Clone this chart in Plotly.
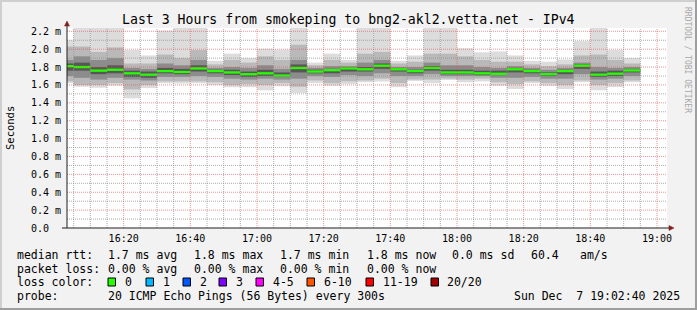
import plotly.graph_objects as go
import pandas as pd

# ---------------- data ----------------
bar_end = pd.date_range("2025-12-07 16:05", periods=35, freq="5min")  # end of each 5-min step
median = [1.81, 1.80, 1.76, 1.77, 1.73, 1.715, 1.755, 1.745, 1.785, 1.755,
          1.74, 1.72, 1.73, 1.705, 1.79, 1.75, 1.765, 1.785, 1.775, 1.815,
          1.775, 1.755, 1.79, 1.74, 1.74, 1.73, 1.725, 1.775, 1.755, 1.72,
          1.755, 1.815, 1.715, 1.726, 1.763]
ping_max = [2.10, 2.30, 2.30, 2.30, 1.99, 1.93, 2.21, 2.30, 2.30, 1.87,
            1.95, 1.90, 2.005, 1.995, 2.30, 1.85, 1.95, 1.88, 2.30, 2.30,
            1.87, 1.93, 2.30, 2.30, 2.01, 1.965, 1.975, 1.93, 1.87, 1.86,
            1.885, 2.09, 2.30, 1.99, 1.90]
ping_min = [1.62, 1.58, 1.57, 1.59, 1.45, 1.565, 1.62, 1.615, 1.62, 1.60,
            1.575, 1.575, 1.54, 1.585, 1.51, 1.62, 1.59, 1.61, 1.63, 1.64,
            1.575, 1.645, 1.62, 1.655, 1.63, 1.64, 1.59, 1.555, 1.62, 1.59,
            1.555, 1.63, 1.54, 1.576, 1.63]
p90 = [2.03, 2.03, 1.97, 2.02, 1.84, 1.84, 1.94, 1.90, 1.99, 1.83,
       1.88, 1.85, 1.92, 1.88, 2.05, 1.82, 1.88, 1.85, 1.95, 1.97,
       1.84, 1.86, 1.95, 1.95, 1.92, 1.88, 1.86, 1.86, 1.83, 1.81,
       1.83, 1.93, 1.94, 1.88, 1.84]
p10 = [1.64, 1.60, 1.60, 1.62, 1.55, 1.60, 1.64, 1.64, 1.64, 1.63,
       1.60, 1.61, 1.60, 1.62, 1.58, 1.65, 1.62, 1.64, 1.65, 1.67,
       1.62, 1.66, 1.66, 1.67, 1.66, 1.67, 1.63, 1.61, 1.64, 1.62,
       1.60, 1.65, 1.60, 1.62, 1.65]
p75 = [1.88, 1.92, 1.88, 1.90, 1.79, 1.78, 1.84, 1.82, 1.88, 1.79,
       1.80, 1.79, 1.82, 1.78, 1.88, 1.79, 1.81, 1.81, 1.85, 1.88,
       1.80, 1.80, 1.85, 1.82, 1.82, 1.80, 1.79, 1.81, 1.79, 1.77,
       1.79, 1.85, 1.80, 1.79, 1.80]
p25 = [1.70, 1.68, 1.66, 1.68, 1.66, 1.65, 1.69, 1.69, 1.70, 1.69,
       1.67, 1.66, 1.67, 1.66, 1.67, 1.70, 1.69, 1.71, 1.70, 1.73,
       1.70, 1.70, 1.72, 1.70, 1.70, 1.70, 1.68, 1.68, 1.69, 1.67,
       1.67, 1.72, 1.66, 1.67, 1.70]
p60 = [1.84, 1.85, 1.80, 1.82, 1.76, 1.75, 1.79, 1.78, 1.82, 1.77,
       1.77, 1.75, 1.77, 1.74, 1.83, 1.77, 1.78, 1.80, 1.80, 1.84,
       1.79, 1.77, 1.81, 1.77, 1.77, 1.76, 1.76, 1.79, 1.77, 1.74,
       1.77, 1.83, 1.75, 1.76, 1.78]
p40 = [1.76, 1.76, 1.72, 1.73, 1.69, 1.68, 1.73, 1.72, 1.75, 1.73,
       1.71, 1.69, 1.70, 1.69, 1.74, 1.73, 1.73, 1.75, 1.75, 1.78,
       1.75, 1.73, 1.76, 1.72, 1.72, 1.71, 1.71, 1.74, 1.73, 1.70,
       1.72, 1.78, 1.69, 1.70, 1.74]

y_ticks = [0.0, 0.2, 0.4, 0.6, 0.8, 1.0, 1.2, 1.4, 1.6, 1.8, 2.0, 2.2]
y_labels = ["0.0\u00a0\u00a0", "0.2 m", "0.4 m", "0.6 m", "0.8 m", "1.0 m", "1.2 m",
            "1.4 m", "1.6 m", "1.8 m", "2.0 m", "2.2 m"]
x_labels = ["16:20", "16:40", "17:00", "17:20", "17:40", "18:00", "18:20", "18:40", "19:00"]

loss_labels = ["0", "1", "2", "3", "4-5", "6-10", "11-19", "20/20"]
loss_colors = ["#26ff00", "#00b8ff", "#0059ff", "#7e00ff", "#ff00ff", "#ff5500", "#ff0000", "#a10000"]

# ---------------- geometry ----------------
IMG_W, IMG_H = 697, 310
L, T, PW, PH = 67, 28, 600, 200
Y_MAX = 2.237
X0 = pd.Timestamp("2025-12-07 16:03:00")
X1 = pd.Timestamp("2025-12-07 19:03:00")
FONT = "DejaVu Sans Mono"


def px(x):
    return (x - L) / PW


def py(y):
    return (T + PH - y) / PH


centers = bar_end - pd.Timedelta(minutes=2.5)
step_ms = 300000

fig = go.Figure()

layers = [(ping_min, ping_max, "#dcdcdc"), (p10, p90, "#b9b9b9"),
          (p25, p75, "#8c8c8c"), (p40, p60, "#575757")]
for lo, hi, col in layers:
    fig.add_trace(go.Bar(x=centers, base=lo, y=[h - l for l, h in zip(lo, hi)],
                         width=step_ms, marker=dict(color=col, line=dict(width=0)),
                         hoverinfo="skip", showlegend=False))

# grid (drawn above smoke as in rrdtool)
x_ticks = [pd.Timestamp("2025-12-07 " + s) for s in x_labels]
minor_t = [t for t in pd.date_range("2025-12-07 16:05", "2025-12-07 19:00", freq="5min")
           if t not in x_ticks]
minor_y = [round(0.1 + 0.2 * i, 1) for i in range(11)]


def vlines(ts):
    xs, ys = [], []
    for t in ts:
        xs += [t, t, None]
        ys += [0, Y_MAX, None]
    return xs, ys


def hlines(vs):
    xs, ys = [], []
    for v in vs:
        xs += [X0, X1, None]
        ys += [v, v, None]
    return xs, ys


for ts, vs, col in [(minor_t, minor_y, "rgba(143,143,143,0.75)"),
                    (x_ticks, y_ticks[1:], "rgba(222,79,79,0.6)")]:
    ax, ay = vlines(ts)
    bx, by = hlines(vs)
    fig.add_trace(go.Scatter(x=ax + bx, y=ay + by, mode="lines",
                             line=dict(color=col, width=1, dash="1px,1px"),
                             hoverinfo="skip", showlegend=False))

# median as thick step segments
MH = 0.026
fig.add_trace(go.Bar(x=centers, base=[m - MH / 2 for m in median], y=[MH] * len(median),
                     width=step_ms, marker=dict(color=loss_colors[0], line=dict(width=0)),
                     hoverinfo="skip", showlegend=False))

shapes = []
# image border (3D shading)
shapes += [
    dict(type="rect", xref="paper", yref="paper", x0=px(0), x1=px(IMG_W), y0=py(0), y1=py(2),
         fillcolor="#cfcfcf", line=dict(width=0), layer="above"),
    dict(type="rect", xref="paper", yref="paper", x0=px(0), x1=px(2), y0=py(0), y1=py(IMG_H),
         fillcolor="#cfcfcf", line=dict(width=0), layer="above"),
    dict(type="rect", xref="paper", yref="paper", x0=px(0), x1=px(IMG_W), y0=py(IMG_H - 2), y1=py(IMG_H),
         fillcolor="#9e9e9e", line=dict(width=0), layer="above"),
    dict(type="rect", xref="paper", yref="paper", x0=px(IMG_W - 2), x1=px(IMG_W), y0=py(0), y1=py(IMG_H),
         fillcolor="#9e9e9e", line=dict(width=0), layer="above"),
]
# axes
shapes += [
    dict(type="line", xref="paper", yref="paper", x0=px(62), x1=px(670), y0=0, y1=0,
         line=dict(color="#1f1f1f", width=1), layer="above"),
    dict(type="line", xref="paper", yref="paper", x0=0, x1=0, y0=0, y1=py(25),
         line=dict(color="#1f1f1f", width=1), layer="above"),
    dict(type="path", xref="paper", yref="paper",
         path=f"M {px(64.5)},{py(26)} L {px(69.5)},{py(26)} L {px(67)},{py(21)} Z",
         fillcolor="#801f1f", line=dict(color="#801f1f", width=0.5), layer="above"),
    dict(type="path", xref="paper", yref="paper",
         path=f"M {px(669)},{py(225.5)} L {px(669)},{py(230.5)} L {px(674)},{py(228)} Z",
         fillcolor="#801f1f", line=dict(color="#801f1f", width=0.5), layer="above"),
]

ann = []


def text(x, y, s, size=11.5, xanchor="left", color="black", angle=0):
    ann.append(dict(xref="paper", yref="paper", x=px(x), y=py(y), text=s, showarrow=False,
                    xanchor=xanchor, yanchor="middle", textangle=angle, borderpad=0,
                    font=dict(family=FONT, size=size, color=color)))


text(348.5, 19, "Last 3 Hours from smokeping to bng2-akl2.vetta.net - IPv4", size=13.2, xanchor="center")
text(10, 128, "Seconds", size=10.5, xanchor="center", angle=-90)
text(688, 60, "RRDTOOL / TOBI OETIKER", size=8, xanchor="center", color="#a8a8a8", angle=90)

r1, r2, r3, r4 = 255, 268.5, 282, 295.5
for x, s in [(16, "median rtt:"), (107, "1.7 ms avg"), (193, "1.8 ms max"), (279, "1.7 ms min"),
             (366, "1.8 ms now"), (451, "0.0 ms sd"), (530, "60.4"), (579, "am/s")]:
    text(x, r1, s)
for x, s in [(16, "packet loss:"), (107, "0.00 % avg"), (193, "0.00 % max"),
             (279, "0.00 % min"), (366, "0.00 % now")]:
    text(x, r2, s)
text(16, r3, "loss color:")
box_x = [108, 146, 183, 219, 256, 307, 366, 431]
for bx, lab, col in zip(box_x, loss_labels, loss_colors):
    shapes.append(dict(type="rect", xref="paper", yref="paper", x0=px(bx), x1=px(bx + 7.5),
                       y0=py(r3 + 4), y1=py(r3 - 4), fillcolor=col,
                       line=dict(color="black", width=1), layer="above"))
    text(bx + 15.5, r3, lab)
text(16, r4, "probe:")
text(107, r4, "20 ICMP Echo Pings (56 Bytes) every 300s")
text(513, r4, "Sun Dec\u00a0\u00a07 19:02:40 2025")

fig.update_layout(
    width=IMG_W, height=IMG_H,
    margin=dict(l=L, r=IMG_W - L - PW, t=T, b=IMG_H - T - PH, pad=0),
    paper_bgcolor="#f2f2f2", plot_bgcolor="white",
    barmode="overlay", showlegend=False,
    shapes=shapes, annotations=ann,
    xaxis=dict(type="date", range=[X0, X1], tickvals=x_ticks, ticktext=x_labels,
               showgrid=False, zeroline=False, showline=False, ticks="",
               tickfont=dict(family=FONT, size=10, color="black"), ticklabelstandoff=3,
               fixedrange=True),
    yaxis=dict(range=[0, Y_MAX], tickvals=y_ticks, ticktext=y_labels,
               showgrid=False, zeroline=False, showline=False, ticks="",
               tickfont=dict(family=FONT, size=10, color="black"), ticklabelstandoff=5,
               fixedrange=True),
)

fig.write_html("out.html", config={"displayModeBar": False})
